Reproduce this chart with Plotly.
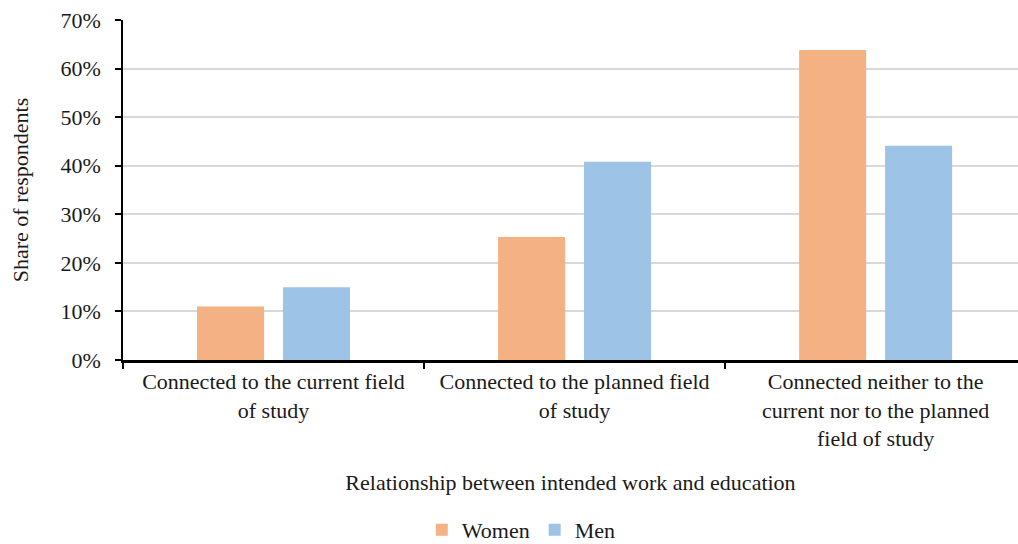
import plotly.graph_objects as go

categories = [
    "Connected to the current field<br>of study",
    "Connected to the planned field<br>of study",
    "Connected neither to the<br>current nor to the planned<br>field of study",
]
women = [0.11, 0.253, 0.638]
men = [0.15, 0.408, 0.441]
y_ticks = [0, 0.1, 0.2, 0.3, 0.4, 0.5, 0.6, 0.7]
y_ticklabels = ["0%", "10%", "20%", "30%", "40%", "50%", "60%", "70%"]

FONT = "Liberation Serif"

fig = go.Figure()
fig.add_trace(go.Bar(x=categories, y=women, name="Women", marker=dict(color="#F4B183", line=dict(width=0))))
fig.add_trace(go.Bar(x=categories, y=men, name="Men", marker=dict(color="#9DC3E6", line=dict(width=0))))

fig.update_layout(
    width=1018, height=544,
    margin=dict(l=123, r=0, t=20, b=184, autoexpand=False),
    paper_bgcolor="white", plot_bgcolor="white",
    barmode="group", bargap=0.429, bargroupgap=0.22,
    font=dict(family=FONT, size=22, color="#1a1a1a"),
    showlegend=True,
    legend=dict(orientation="h", x=0.445, xanchor="center", y=-0.5, yanchor="middle",
                font=dict(size=22), itemwidth=30, tracegroupgap=0),
    xaxis=dict(
        type="category", range=[-0.5, 2.473], automargin=False,
        showline=True, linecolor="black", linewidth=2.5,
        ticks="outside", tickson="boundaries", ticklen=6, tickcolor="black", tickwidth=2,
        showgrid=False,
        tickfont=dict(size=22),
        title=dict(text="Relationship between intended work and education", font=dict(size=22), standoff=25),
    ),
    yaxis=dict(
        range=[0, 0.7], tickvals=y_ticks, ticktext=y_ticklabels, automargin=False,
        showline=True, linecolor="black", linewidth=1.5,
        ticks="outside", ticklen=6, tickcolor="black", tickwidth=1.5,
        ticklabelstandoff=10,
        showgrid=True, gridcolor="#d9d9d9", gridwidth=2,
        zeroline=False,
        tickfont=dict(size=22),
        title=dict(text="Share of respondents", font=dict(size=22), standoff=26),
    ),
)

fig.write_html("out.html")
